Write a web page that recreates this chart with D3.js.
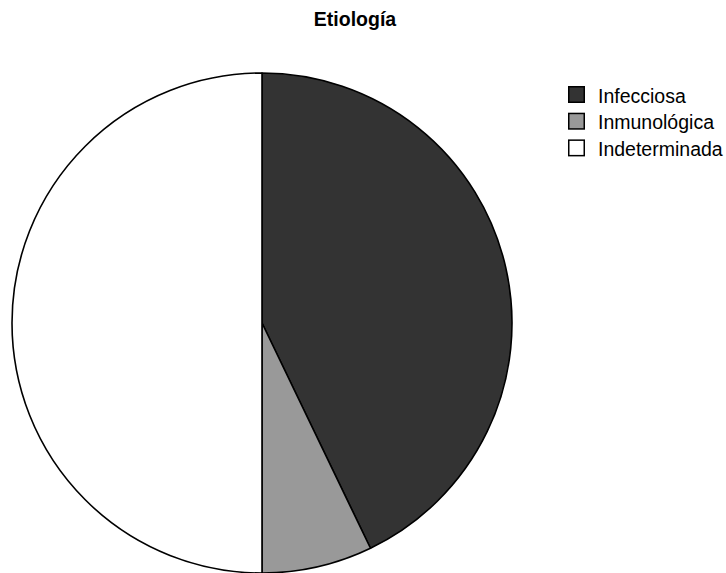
<!DOCTYPE html>
<html>
<head>
<meta charset="utf-8">
<script src="https://cdn.jsdelivr.net/npm/d3@7"></script>
<style>
  html, body { margin: 0; padding: 0; background: #fff; }
  svg { display: block; }
</style>
</head>
<body>
<svg id="chart" width="726" height="573"></svg>
<script>
// Etiology categories, case counts and fill colours
const categories = ["Infecciosa", "Inmunológica", "Indeterminada"];
const counts = [6, 1, 7];
const colors = ["#333333", "#999999", "#ffffff"];

const svg = d3.select("#chart");
const cx = 262, cy = 323, radius = 250;
const fontFamily = "Liberation Sans, Arial, Helvetica, sans-serif";

svg.append("text")
  .attr("x", 355)
  .attr("y", 26)
  .attr("text-anchor", "middle")
  .attr("font-family", fontFamily)
  .attr("font-weight", "bold")
  .attr("font-size", 19.5)
  .text("Etiología");

const pie = d3.pie().sort(null).value(d => d)(counts);
const arc = d3.arc().innerRadius(0).outerRadius(radius);
const color = d3.scaleOrdinal().domain(categories).range(colors);

svg.append("g")
  .attr("transform", `translate(${cx},${cy})`)
  .selectAll("path")
  .data(pie)
  .join("path")
  .attr("d", arc)
  .attr("fill", (d, i) => color(categories[i]))
  .attr("stroke", "#000")
  .attr("stroke-width", 1.6)
  .attr("stroke-linejoin", "round");

// Legend: swatch + label per category
const legend = svg.append("g").attr("transform", "translate(568,86)");
const rowH = 26.7;
const item = legend.selectAll("g")
  .data(categories)
  .join("g")
  .attr("transform", (d, i) => `translate(0,${i * rowH})`);

item.append("rect")
  .attr("x", 0.75).attr("y", 0.75)
  .attr("width", 15.5).attr("height", 15.5)
  .attr("fill", d => color(d))
  .attr("stroke", "#000")
  .attr("stroke-width", 1.5);

item.append("text")
  .attr("x", 30)
  .attr("y", 16.7)
  .attr("font-family", fontFamily)
  .attr("font-size", 19.5)
  .attr("fill", "#000")
  .text(d => d);
</script>
</body>
</html>
